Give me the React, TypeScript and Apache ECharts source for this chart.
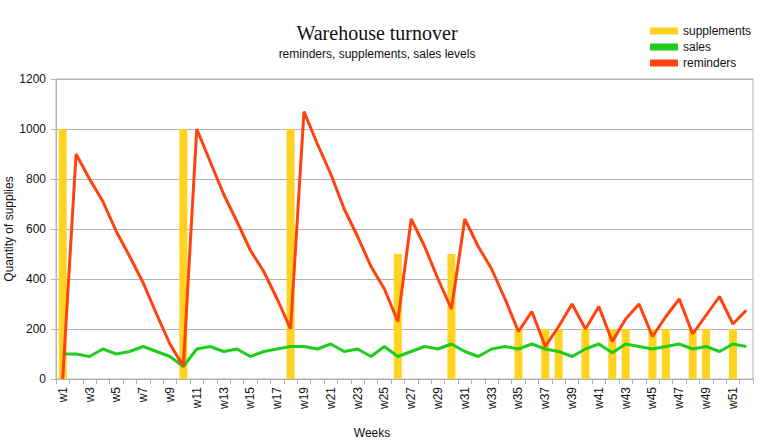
import React, { useEffect, useRef } from "react";
import * as echarts from "echarts";

const weeks = [
  "w1", "w2", "w3", "w4", "w5", "w6", "w7", "w8", "w9", "w10",
  "w11", "w12", "w13", "w14", "w15", "w16", "w17", "w18", "w19", "w20",
  "w21", "w22", "w23", "w24", "w25", "w26", "w27", "w28", "w29", "w30",
  "w31", "w32", "w33", "w34", "w35", "w36", "w37", "w38", "w39", "w40",
  "w41", "w42", "w43", "w44", "w45", "w46", "w47", "w48", "w49", "w50",
  "w51", "w52",
];

const supplements = [
  1000, 0, 0, 0, 0, 0, 0, 0, 0, 1000,
  0, 0, 0, 0, 0, 0, 0, 1000, 0, 0,
  0, 0, 0, 0, 0, 500, 0, 0, 0, 500,
  0, 0, 0, 0, 200, 0, 200, 200, 0, 200,
  0, 200, 200, 0, 200, 200, 0, 200, 200, 0,
  200, 0,
];

const sales = [
  100, 100, 90, 120, 100, 110, 130, 110, 90, 50,
  120, 130, 110, 120, 90, 110, 120, 130, 130, 120,
  140, 110, 120, 90, 130, 90, 110, 130, 120, 140,
  110, 90, 120, 130, 120, 140, 120, 110, 90, 120,
  140, 105, 140, 130, 120, 130, 140, 120, 130, 110,
  140, 130,
];

const reminders = [
  0, 900, 800, 710, 590, 490, 385, 260, 140, 50,
  1000, 870, 740, 630, 515, 430, 320, 200, 1070, 940,
  820, 680, 570, 450, 360, 230, 640, 530, 400, 280,
  640, 530, 440, 320, 190, 270, 130, 210, 300, 200,
  290, 150, 240, 300, 170, 250, 320, 180, 255, 330,
  220, 275,
];

const yTicks = { min: 0, max: 1200, interval: 200 };

const GRAY = "#b3b3b3";
const FONT = "Liberation Sans";

export default function App() {
  const ref = useRef<HTMLDivElement>(null);

  useEffect(() => {
    if (!ref.current) return;
    const chart = echarts.init(ref.current, null, { renderer: "svg" });
    chart.setOption({
      animation: false,
      backgroundColor: "#ffffff",
      title: {
        text: "Warehouse turnover",
        subtext: "reminders, supplements, sales levels",
        left: 372,
        top: 18,
        textAlign: "center",
        itemGap: 5,
        textStyle: {
          fontFamily: "Liberation Serif",
          fontSize: 20,
          fontWeight: "normal",
          color: "#111",
        },
        subtextStyle: {
          fontFamily: FONT,
          fontSize: 12,
          color: "#111",
        },
      },
      legend: {
        orient: "vertical",
        left: 645,
        top: 20,
        itemWidth: 28,
        itemHeight: 7,
        itemGap: 4,
        icon: "rect",
        textStyle: { fontFamily: FONT, fontSize: 12, color: "#111" },
        data: ["supplements", "sales", "reminders"],
      },
      grid: {
        left: 56,
        right: 15,
        top: 79,
        bottom: 67,
        show: true,
        borderColor: GRAY,
        borderWidth: 1,
        outerBoundsMode: "none",
      },
      xAxis: {
        type: "category",
        data: weeks,
        boundaryGap: true,
        axisLine: { show: true, lineStyle: { color: GRAY, width: 1 } },
        axisTick: { show: true, interval: 0, length: 5, lineStyle: { color: GRAY } },
        axisLabel: {
          interval: 1,
          rotate: 90,
          fontFamily: FONT,
          fontSize: 12,
          color: "#111",
          margin: 8,
        },
        splitLine: { show: false },
      },
      yAxis: {
        type: "value",
        min: yTicks.min,
        max: yTicks.max,
        interval: yTicks.interval,
        name: "Quantity of supplies",
        nameLocation: "middle",
        nameGap: 41,
        nameMoveOverlap: false,
        nameTextStyle: { fontFamily: FONT, fontSize: 12, color: "#111" },
        axisLine: { show: true, lineStyle: { color: GRAY, width: 1 } },
        axisTick: { show: true, length: 5, lineStyle: { color: GRAY } },
        axisLabel: {
          fontFamily: FONT,
          fontSize: 12,
          color: "#111",
          margin: 10,
          formatter: (v: number) => String(v),
        },
        splitLine: { show: true, lineStyle: { color: GRAY, width: 1 } },
      },
      graphic: [
        {
          type: "text",
          x: 372,
          y: 433,
          style: {
            text: "Weeks",
            fontFamily: FONT,
            fontSize: 12,
            fill: "#111",
            textAlign: "center",
            textVerticalAlign: "middle",
          },
        },
      ],
      series: [
        {
          name: "supplements",
          type: "bar",
          data: supplements,
          barWidth: 8,
          itemStyle: { color: "#ffd320" },
          z: 1,
        },
        {
          name: "sales",
          type: "line",
          data: sales,
          showSymbol: false,
          symbol: "none",
          lineStyle: { color: "#1fcc1f", width: 3 },
          itemStyle: { color: "#1fcc1f" },
          z: 3,
        },
        {
          name: "reminders",
          type: "line",
          data: reminders,
          showSymbol: false,
          symbol: "none",
          lineStyle: { color: "#ff420e", width: 3 },
          itemStyle: { color: "#ff420e" },
          z: 4,
        },
      ],
    });
    return () => chart.dispose();
  }, []);

  return (
    <div
      ref={ref}
      style={{ position: "fixed", left: 0, top: 0, width: 768, height: 446, background: "#fff" }}
    />
  );
}
